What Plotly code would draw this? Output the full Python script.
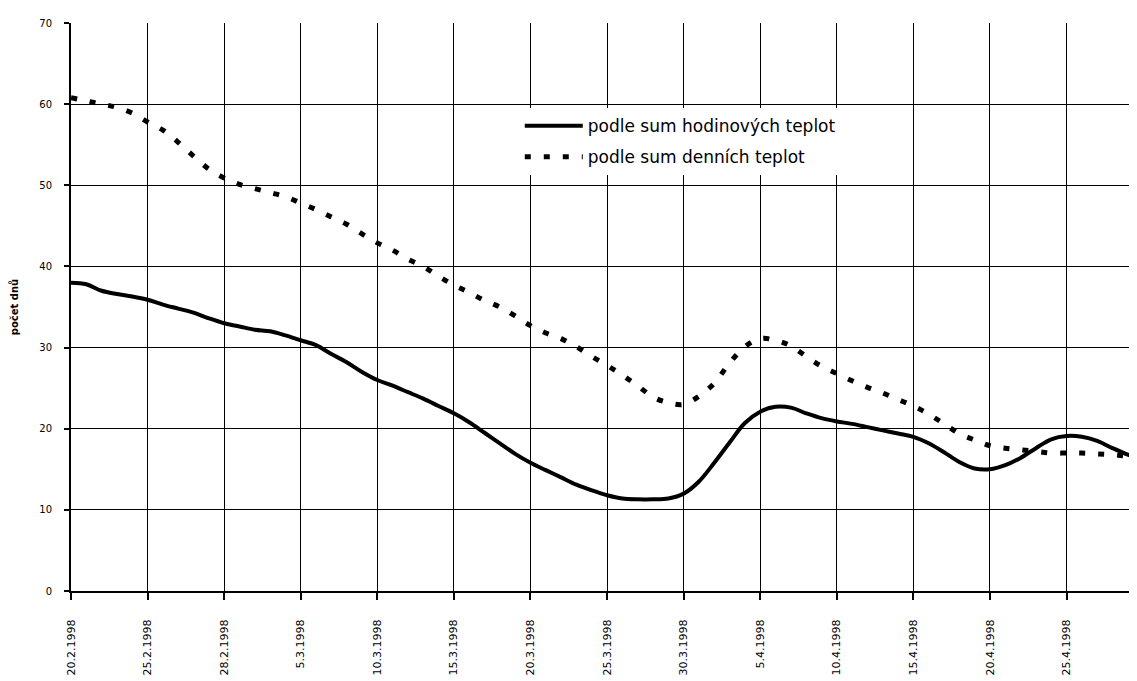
import plotly.graph_objects as go

# day index since 20.2.1998
days = list(range(0, 71))

hodinove = [38.0, 37.8, 37.0, 36.6, 36.3, 35.9, 35.3, 34.8, 34.3, 33.6,
            33.0, 32.6, 32.2, 32.0, 31.5, 30.9, 30.3, 29.2, 28.2, 27.0,
            26.0, 25.3, 24.5, 23.7, 22.8, 21.9, 20.8, 19.5, 18.2, 16.9,
            15.8, 14.9, 14.0, 13.1, 12.4, 11.8, 11.4, 11.3, 11.3, 11.4,
            12.0, 13.5, 15.8, 18.3, 20.7, 22.1, 22.7, 22.6, 21.9, 21.3,
            20.9, 20.6, 20.2, 19.8, 19.4, 19.0, 18.2, 17.1, 15.9, 15.1,
            15.0, 15.5, 16.4, 17.6, 18.7, 19.1, 19.0, 18.5, 17.6, 16.8,
            16.0]

denni = [60.8, 60.4, 60.0, 59.6, 58.9, 57.8, 56.8, 55.3, 53.6, 52.0,
         50.9, 50.1, 49.6, 49.1, 48.6, 47.8, 47.0, 46.1, 45.2, 44.0,
         42.9, 42.0, 40.9, 40.0, 38.8, 37.7, 36.8, 35.8, 35.0, 33.9,
         32.7, 31.8, 31.1, 30.1, 28.9, 27.8, 26.6, 25.3, 23.9, 23.2,
         23.0, 24.0, 25.6, 28.1, 30.1, 31.1, 30.9, 30.2, 28.9, 27.7,
         26.8, 25.9, 25.1, 24.4, 23.6, 22.8, 21.8, 20.6, 19.4, 18.6,
         17.9, 17.6, 17.4, 17.2, 17.0, 17.0, 17.0, 16.9, 16.8, 16.6,
         16.5]

tick_vals = [0, 5, 10, 15, 20, 25, 30, 35, 40, 45, 50, 55, 60, 65, 70]
tick_text = ["20.2.1998", "25.2.1998", "28.2.1998", "5.3.1998", "10.3.1998",
             "15.3.1998", "20.3.1998", "25.3.1998", "30.3.1998", "5.4.1998",
             "10.4.1998", "15.4.1998", "20.4.1998", "25.4.1998", "30.4.1998"]

y_ticks = [0, 10, 20, 30, 40, 50, 60, 70]

fig = go.Figure()
fig.add_trace(go.Scatter(
    x=days, y=hodinove, mode="lines", name="podle sum hodinových teplot",
    legendgroup="a",
    line=dict(color="black", width=4, shape="spline"),
))
fig.add_trace(go.Scatter(
    x=days, y=denni, mode="lines", name="podle sum denních teplot",
    legendgroup="b",
    line=dict(color="black", width=5, dash="6px,13px", shape="spline"),
))

# last tick label lies at the right edge of the picture (partly cut off)
fig.add_annotation(
    x=tick_vals[-1], xref="x", y=-0.051, yref="paper",
    text=tick_text[-1], textangle=-90, showarrow=False,
    xanchor="center", yanchor="top", xshift=-4,
    font=dict(family="DejaVu Sans", size=11, color="black"),
)

fig.update_layout(
    width=1129, height=673,
    margin=dict(l=63, r=0, t=15, b=90, autoexpand=False),
    paper_bgcolor="white", plot_bgcolor="white",
    font=dict(family="DejaVu Sans", color="black"),
    showlegend=True,
    legend=dict(
        x=0.421, y=0.85, xanchor="left", yanchor="top",
        bgcolor="white", borderwidth=0,
        font=dict(family="DejaVu Sans", size=17, color="black"),
        itemwidth=58, tracegroupgap=6,
    ),
    xaxis=dict(
        range=[0, 69.6], tickmode="array", tickvals=tick_vals, ticktext=tick_text,
        tickangle=-90, ticks="outside", ticklen=7, tickwidth=2, tickcolor="black",
        tickfont=dict(family="DejaVu Sans", size=11, color="black"),
        ticklabelstandoff=15,
        showgrid=True, gridcolor="black", gridwidth=1,
        showline=True, linecolor="black", linewidth=2,
        zeroline=False, fixedrange=True, automargin=False,
    ),
    yaxis=dict(
        range=[0, 70], tickmode="array", tickvals=y_ticks,
        ticks="outside", ticklen=5, tickwidth=2, tickcolor="black",
        tickfont=dict(family="DejaVu Sans", size=10, color="black"),
        ticklabelstandoff=10,
        showgrid=True, gridcolor="black", gridwidth=1,
        showline=True, linecolor="black", linewidth=2,
        zeroline=False, automargin=False,
        title=dict(text="<b>počet dnů</b>", font=dict(family="DejaVu Sans", size=10, color="black"), standoff=20),
    ),
)

fig.write_html("out.html")
